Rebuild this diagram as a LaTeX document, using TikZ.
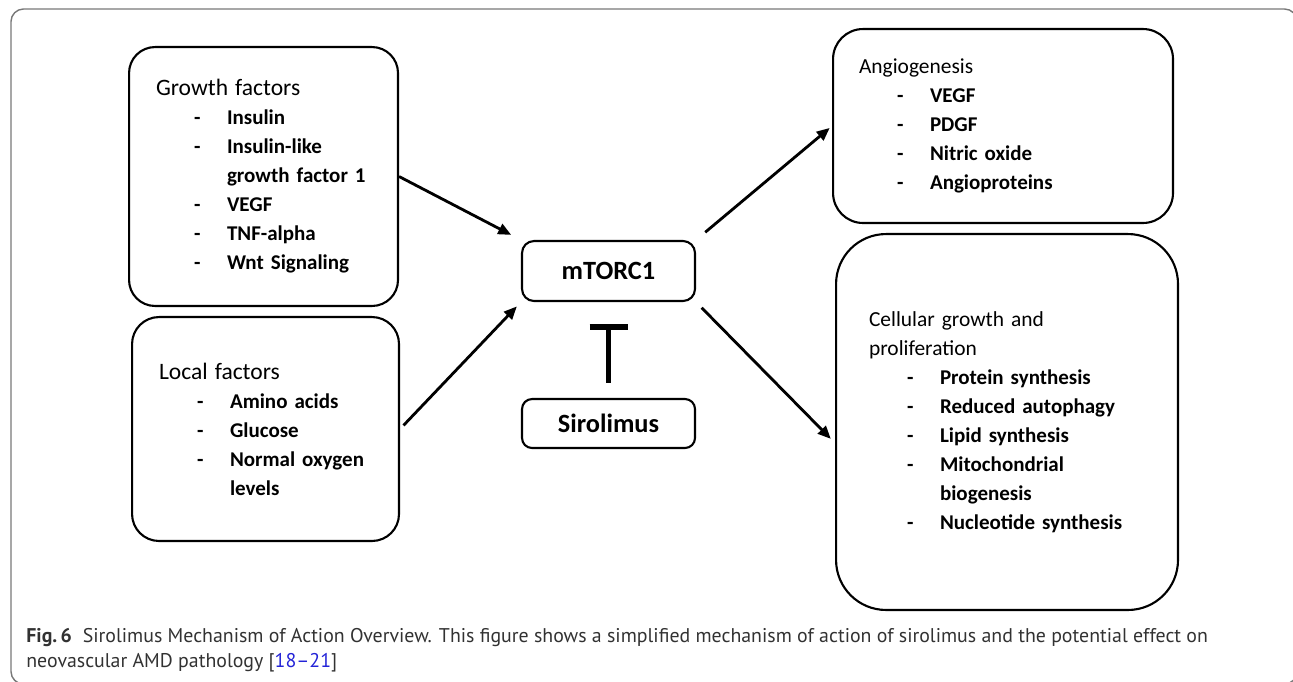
\documentclass[tikz,border=0pt]{standalone}
\usepackage{fontspec}
\setmainfont{Carlito}
\newfontfamily\capfont{PT Sans}
\definecolor{frameGray}{RGB}{120,120,120}
\definecolor{captionGray}{RGB}{50,50,50}
\definecolor{citeBlue}{RGB}{35,35,215}
\usetikzlibrary{arrows.meta,positioning}
% list lines: dash item, and wrapped continuation
\newcommand{\dashitem}[1]{\makebox[0.76cm][l]{}\makebox[0.66cm][l]{\textbf{-}}\textbf{#1}}
\newcommand{\contitem}[1]{\makebox[1.42cm][l]{}\textbf{#1}}
\newcommand{\bighead}[1]{{\fontsize{13.4}{16.5}\selectfont #1}}
\newcommand{\smallhead}[1]{{\fontsize{12.2}{16.5}\selectfont #1}}

\begin{document}
\begin{tikzpicture}[x=0.02cm,y=-0.02cm,
    factorbox/.style={draw,line width=1.2pt,anchor=west,align=left,inner ysep=0pt,
      font=\fontsize{11.95}{16.5}\selectfont},
    drugbox/.style={draw,line width=1.2pt,minimum width=3.46cm,inner sep=0pt,
      font=\bfseries\fontsize{15}{18}\selectfont},
    activate/.style={line width=1.6pt,-{Triangle[length=0.26cm,width=0.22cm]}},
    inhibit/.style={line width=3.3pt,-{Bar[width=0.76cm,line width=3.6pt]}}]
  \useasboundingbox (0,0) rectangle (1293,681);
  % outer frame
  \draw[frameGray,line width=0.8pt,rounded corners=0.25cm] (11,9) rectangle (1297,684);

  % Upstream signals (left)
  \node[factorbox,rounded corners=0.52cm,minimum height=5.18cm,text width=4.30cm,inner xsep=0.54cm]
    (growth) at (128,176.5) {\bighead{Growth factors}\\
      \dashitem{Insulin}\\
      \dashitem{Insulin-like}\\
      \contitem{growth factor 1}\\
      \dashitem{VEGF}\\
      \dashitem{TNF-alpha}\\
      \dashitem{Wnt Signaling}};
  \node[factorbox,rounded corners=0.54cm,minimum height=4.48cm,text width=4.26cm,inner xsep=0.54cm]
    (local) at (131,429) {\bighead{Local factors}\\
      \dashitem{Amino acids}\\
      \dashitem{Glucose}\\
      \dashitem{Normal oxygen}\\
      \contitem{levels}};

  % Complex and drug (middle)
  \node[drugbox,rounded corners=0.24cm,minimum height=1.2cm] (mtor) at (608.5,271) {mTORC1};
  \node[drugbox,rounded corners=0.2cm,minimum height=0.98cm] (siro) at (608.5,423.5) {Sirolimus};

  % Downstream effects (right)
  \node[factorbox,rounded corners=0.6cm,minimum height=3.88cm,text width=5.76cm,inner xsep=0.52cm]
    (angio) at (832,126) {\smallhead{Angiogenesis}\\
      \dashitem{VEGF}\\
      \dashitem{PDGF}\\
      \dashitem{Nitric oxide}\\
      \dashitem{Angioproteins}};
  \node[factorbox,rounded corners=1cm,minimum height=7.52cm,text width=5.52cm,inner xsep=0.66cm]
    (cell) at (835,422) {\smallhead{Cellular growth and}\\
      \smallhead{proliferation}\\
      \dashitem{Protein synthesis}\\
      \dashitem{Reduced autophagy}\\
      \dashitem{Lipid synthesis}\\
      \dashitem{Mitochondrial}\\
      \contitem{biogenesis}\\
      \dashitem{Nucleotide synthesis}};

  % Arrows
  \draw[activate,shorten >=0.22cm] (growth.east) -- (mtor.north west);
  \draw[activate,shorten <=0.1cm,shorten >=0.12cm] (local.east) -- (mtor.south west);
  \draw[activate,shorten <=0.24cm,shorten >=0.06cm] (mtor.north east) -- (angio.west);
  \draw[activate,shorten <=0.16cm,shorten >=0.12cm] (mtor.south east) -- (cell.187);
  \draw[inhibit,shorten <=0.3cm,shorten >=0.44cm] (siro.north) -- (mtor.south);

  % Caption (base anchor sits on the last line)
  \node[anchor=base west,inner sep=0pt,align=left,text=captionGray,
    font=\capfont\fontsize{11.3}{14.2}\selectfont] (caption) at (26,667)
    {\textbf{Fig.\,6}\hspace{0.22cm}Sirolimus Mechanism of Action Overview. This figure shows a simplified mechanism of action of sirolimus and the potential effect on\\
     neovascular AMD pathology [\textcolor{citeBlue}{18–21}]};
\end{tikzpicture}
\end{document}
